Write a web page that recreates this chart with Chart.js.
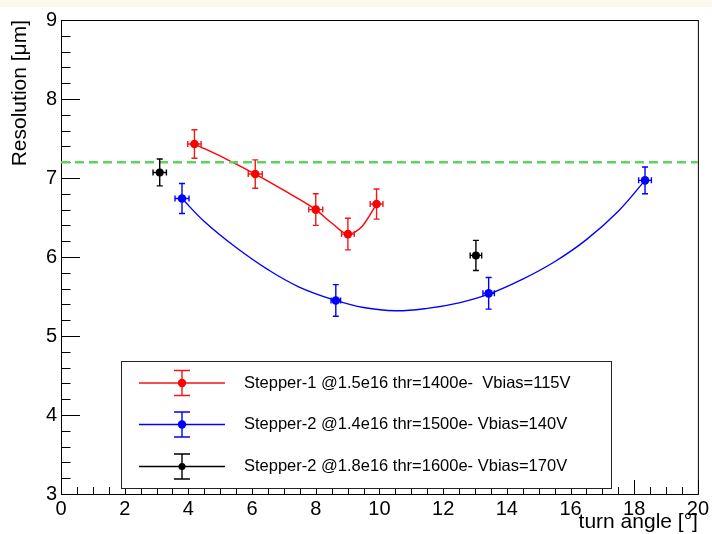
<!DOCTYPE html>
<html>
<head>
<meta charset="utf-8">
<script src="https://cdn.jsdelivr.net/npm/chart.js@4/dist/chart.umd.min.js"></script>
<style>
  html, body { margin: 0; padding: 0; background: #ffffff; }
  #strip { position: absolute; left: 0; top: 0; width: 712px; height: 7px; background: #fdf8ec; }
  #wrap { position: absolute; left: 0; top: 0; width: 712px; height: 534px; }
</style>
</head>
<body>
<div id="strip"></div>
<div id="wrap"><canvas id="c" width="712" height="534"></canvas></div>
<script>
// Stepper-1 @1.5e16, thr=1400e-, Vbias=115V
const s1Angle    = [4.19, 6.10, 8.00, 9.01, 9.91];
const s1Res      = [7.43, 7.05, 6.60, 6.29, 6.67];
const s1AngleErr = [0.21, 0.22, 0.22, 0.20, 0.20];
const s1ResErr   = [0.18, 0.18, 0.20, 0.20, 0.19];

// Stepper-2 @1.4e16, thr=1500e-, Vbias=140V
const s2Angle    = [3.80, 8.63, 13.43, 18.34];
const s2Res      = [6.74, 5.45, 5.54, 6.97];
const s2AngleErr = [0.22, 0.15, 0.18, 0.20];
const s2ResErr   = [0.19, 0.20, 0.20, 0.17];

// Stepper-2 @1.8e16, thr=1600e-, Vbias=170V
const s3Angle    = [3.10, 13.03];
const s3Res      = [7.07, 6.02];
const s3AngleErr = [0.21, 0.18];
const s3ResErr   = [0.17, 0.19];

// Fitted curves (sampled)
const fit1Angle = [4.19, 5.19, 6.10, 7.06, 8.00, 8.50, 9.01, 9.46, 9.91];
const fit1Res   = [7.43, 7.24, 7.05, 6.83, 6.60, 6.43, 6.29, 6.39, 6.67];
const fit2Angle = [3.80, 4.50, 5.50, 6.50, 7.48, 8.63, 9.50, 10.50, 11.50, 12.50, 13.43, 14.50, 15.50, 16.50, 17.50, 18.34];
const fit2Res   = [6.74, 6.45, 6.12, 5.84, 5.62, 5.45, 5.36, 5.32, 5.35, 5.42, 5.53, 5.72, 5.94, 6.22, 6.58, 6.97];

// Reference level
const refAngle = [0, 20];
const refRes   = [7.2, 7.2];

// Axis ticks
const xTickLabels = [0, 2, 4, 6, 8, 10, 12, 14, 16, 18, 20];
const yTickLabels = [3, 4, 5, 6, 7, 8, 9];

const seriesLabels = [
  'Stepper-1 @1.5e16 thr=1400e-  Vbias=115V',
  'Stepper-2 @1.4e16 thr=1500e- Vbias=140V',
  'Stepper-2 @1.8e16 thr=1600e- Vbias=170V'
];

const FONT = '"Liberation Sans", Arial, Helvetica, sans-serif';

function pts(xs, ys) { return xs.map((x, i) => ({ x: x, y: ys[i] })); }

// Error bars drawn just before each marker set
const errorBars = {
  id: 'errorBars',
  beforeDatasetDraw(chart, args) {
    const ds = chart.data.datasets[args.index];
    if (!ds.errX) return;
    const xs = chart.scales.x, ys = chart.scales.y, ctx = chart.ctx;
    ctx.save();
    ctx.strokeStyle = ds.barColor;
    ctx.lineWidth = 1.4;
    const cap = 3;
    ds.data.forEach((p, i) => {
      const px = xs.getPixelForValue(p.x), py = ys.getPixelForValue(p.y);
      const x0 = xs.getPixelForValue(p.x - ds.errX[i]), x1 = xs.getPixelForValue(p.x + ds.errX[i]);
      const y0 = ys.getPixelForValue(p.y - ds.errY[i]), y1 = ys.getPixelForValue(p.y + ds.errY[i]);
      ctx.beginPath();
      ctx.moveTo(x0, py); ctx.lineTo(x1, py);
      ctx.moveTo(px, y0); ctx.lineTo(px, y1);
      ctx.moveTo(px - cap, y0); ctx.lineTo(px + cap, y0);
      ctx.moveTo(px - cap, y1); ctx.lineTo(px + cap, y1);
      ctx.moveTo(x0, py - cap); ctx.lineTo(x0, py + cap);
      ctx.moveTo(x1, py - cap); ctx.lineTo(x1, py + cap);
      ctx.stroke();
    });
    ctx.restore();
  }
};

// Frame and inward tick marks on the left and bottom axes
const frameTicks = {
  id: 'frameTicks',
  beforeDatasetsDraw(chart) {
    const { ctx, chartArea: a } = chart;
    const xs = chart.scales.x, ys = chart.scales.y;
    ctx.save();
    ctx.strokeStyle = '#000';
    ctx.lineWidth = 1;
    ctx.strokeRect(a.left + 0.5, a.top + 0.5, a.right - a.left, a.bottom - a.top);
    ctx.beginPath();
    for (let v = 0; v <= 20.001; v += 0.5) {
      const major = Math.abs(v / 2 - Math.round(v / 2)) < 1e-6;
      const px = Math.round(xs.getPixelForValue(v)) + 0.5;
      ctx.moveTo(px, a.bottom);
      ctx.lineTo(px, a.bottom - (major ? 14 : 7));
    }
    for (let k = 0; k <= 30; k++) {
      const v = 3 + k * 0.2;
      const major = k % 5 === 0;
      const py = Math.round(ys.getPixelForValue(v)) + 0.5;
      ctx.moveTo(a.left, py);
      ctx.lineTo(a.left + (major ? 19 : 9.5), py);
    }
    ctx.stroke();
    ctx.restore();
  }
};

// Boxed legend with error-bar symbols
const boxLegend = {
  id: 'boxLegend',
  afterDraw(chart) {
    const ctx = chart.ctx;
    const bx = 121, by = 361, bw = 490, bh = 127;
    ctx.save();
    ctx.fillStyle = '#fff';
    ctx.fillRect(bx, by, bw, bh);
    ctx.strokeStyle = '#222';
    ctx.lineWidth = 1;
    ctx.strokeRect(bx + 0.5, by + 0.5, bw, bh);
    const entries = chart.data.datasets.filter(d => d.errX);
    const rows = [383, 424.5, 466.5];
    entries.forEach((d, i) => {
      const y = rows[i];
      const cx = 182;
      ctx.strokeStyle = d.barColor;
      ctx.lineWidth = 1.4;
      ctx.beginPath();
      ctx.moveTo(139, y); ctx.lineTo(225, y);
      ctx.moveTo(cx, y - 12.5); ctx.lineTo(cx, y + 12.5);
      ctx.moveTo(cx - 8, y - 12.5); ctx.lineTo(cx + 8, y - 12.5);
      ctx.moveTo(cx - 8, y + 12.5); ctx.lineTo(cx + 8, y + 12.5);
      ctx.stroke();
      ctx.fillStyle = d.pointBackgroundColor;
      ctx.beginPath();
      ctx.arc(cx, y, i === 2 ? 3.5 : 4.2, 0, Math.PI * 2);
      ctx.fill();
      ctx.fillStyle = '#000';
      ctx.font = '16.5px ' + FONT;
      ctx.textBaseline = 'middle';
      ctx.textAlign = 'left';
      ctx.fillText(d.label, 244, y);
    });
    ctx.restore();
  }
};

new Chart(document.getElementById('c'), {
  type: 'scatter',
  data: {
    datasets: [
      { label: 'fit1', data: pts(fit1Angle, fit1Res), borderColor: '#ff0000', order: 5,
        showLine: true, pointRadius: 0, cubicInterpolationMode: 'monotone', borderWidth: 1.4, fill: false },
      { label: 'fit2', data: pts(fit2Angle, fit2Res), borderColor: '#0000ff', order: 5,
        showLine: true, pointRadius: 0, tension: 0.4, borderWidth: 1.4, fill: false },
      { label: 'ref', data: pts(refAngle, refRes), showLine: true, pointRadius: 0, borderColor: '#5fd35f', borderWidth: 2.5, borderDash: [9, 5], order: 4 },
      { label: seriesLabels[0], data: pts(s1Angle, s1Res), errX: s1AngleErr, errY: s1ResErr, barColor: '#f01818',
        pointRadius: 4.3, pointBackgroundColor: '#ff0000', pointBorderWidth: 0, order: 3 },
      { label: seriesLabels[1], data: pts(s2Angle, s2Res), errX: s2AngleErr, errY: s2ResErr, barColor: '#0000ff',
        pointRadius: 4.3, pointBackgroundColor: '#0000ff', pointBorderWidth: 0, order: 2 },
      { label: seriesLabels[2], data: pts(s3Angle, s3Res), errX: s3AngleErr, errY: s3ResErr, barColor: '#000000',
        pointRadius: 4.0, pointBackgroundColor: '#000000', pointBorderWidth: 0, order: 1 }
    ]
  },
  options: {
    responsive: false,
    animation: false,
    devicePixelRatio: 1,
    layout: { padding: { top: 20, right: 12, left: 0, bottom: 0 } },
    plugins: { legend: { display: false }, tooltip: { enabled: false } },
    scales: {
      x: {
        type: 'linear', min: 0, max: 20,
        afterFit(s) { s.height = 40; },
        afterBuildTicks(s) { s.ticks = xTickLabels.map(v => ({ value: v })); },
        grid: { display: false, drawTicks: false },
        border: { display: false },
        ticks: { autoSkip: false, maxRotation: 0, padding: 3, color: '#000', font: { family: FONT, size: 20 } },
        title: { display: true, text: 'turn angle [°]', align: 'end', color: '#000', font: { family: FONT, size: 21 }, padding: { top: 0, bottom: -1 } }
      },
      y: {
        type: 'linear', min: 3, max: 9,
        afterFit(s) { s.width = 61; },
        afterBuildTicks(s) { s.ticks = yTickLabels.map(v => ({ value: v })); },
        grid: { display: false, drawTicks: false },
        border: { display: false },
        ticks: { autoSkip: false, padding: 4, color: '#000', font: { family: FONT, size: 20 } },
        title: { display: true, text: 'Resolution [μm]', align: 'end', color: '#000', font: { family: FONT, size: 21 }, padding: { top: 8, bottom: 0 } }
      }
    }
  },
  plugins: [frameTicks, errorBars, boxLegend]
});
</script>
</body>
</html>
